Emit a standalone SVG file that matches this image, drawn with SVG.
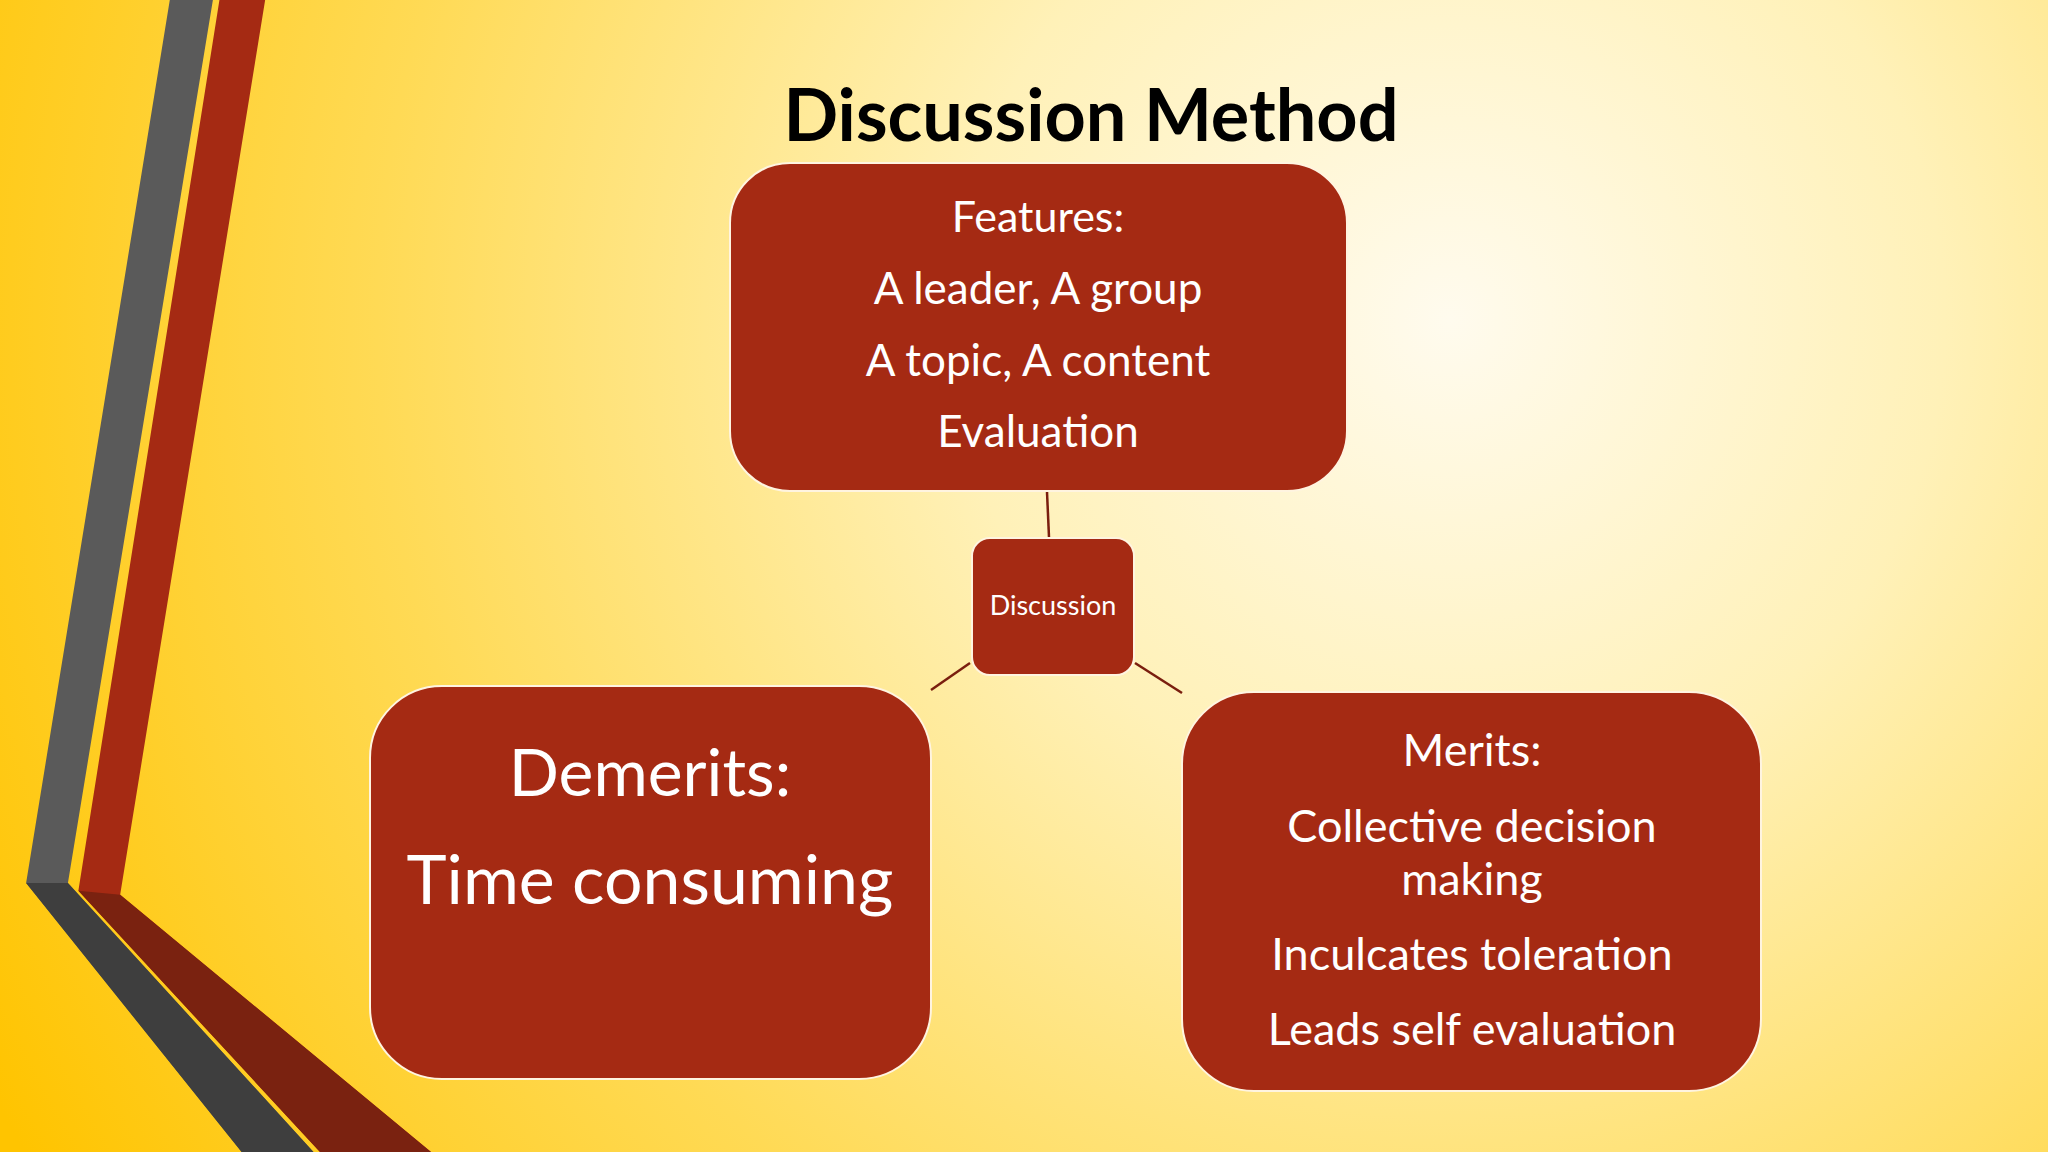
<svg xmlns="http://www.w3.org/2000/svg" width="2048" height="1152" viewBox="0 0 2048 1152">
<defs>
<radialGradient id="bg" cx="1450" cy="320" r="1650" gradientUnits="userSpaceOnUse">
<stop offset="0" stop-color="#FFFBEE"/>
<stop offset="0.3" stop-color="#FFF1B8"/>
<stop offset="0.65" stop-color="#FFDA55"/>
<stop offset="1" stop-color="#FFC400"/>
</radialGradient>
<style>
.box{fill:#A52A13;stroke:#FFF4E0;stroke-width:2}
.t{fill:#fff;font-family:Lato,"Open Sans",sans-serif;text-anchor:middle}
.c{stroke:#7A1E0E;stroke-width:2.5;fill:none}
</style>
</defs>
<rect width="2048" height="1152" fill="url(#bg)"/>
<g transform="scale(1.30612)">
<polygon points="130,0 163,0 52,676 240,882 185,882 20,676" fill="#5A5A5A"/>
<polygon points="168,0 203,0 92,685 330,882 245,882 60,682" fill="#A52A13"/>
<polygon points="60,682 92,685 330,882 245,882" fill="#7A2210"/>
<polygon points="20,676 52,676 240,882 185,882" fill="#3E3E3E"/>
</g>
<text x="1091" y="141" class="t" style="fill:#000;font-weight:bold;font-size:72px">Discussion Method</text>
<g id="connectors">
<line class="c" x1="1047" y1="492" x2="1049" y2="537"/>
<line class="c" x1="970" y1="663" x2="931" y2="690"/>
<line class="c" x1="1135" y1="663" x2="1182" y2="693"/>
</g>
<g id="features">
<rect class="box" x="730" y="163" width="617" height="328" rx="60"/>
<text class="t" x="1038" y="232" font-size="43">Features:</text>
<text class="t" x="1038" y="304" font-size="44">A leader, A group</text>
<text class="t" x="1038" y="376" font-size="44">A topic, A content</text>
<text class="t" x="1038" y="447" font-size="44">Evaluation</text>
</g>
<g id="discussion">
<rect class="box" x="972" y="538" width="162" height="137" rx="18"/>
<text class="t" x="1053" y="615" font-size="27">Discussion</text>
</g>
<g id="demerits">
<rect class="box" x="370" y="686" width="561" height="393" rx="72"/>
<text class="t" x="650" y="796" font-size="66">Demerits:</text>
<text class="t" x="650" y="904" font-size="68">Time consuming</text>
</g>
<g id="merits">
<rect class="box" x="1182" y="692" width="579" height="399" rx="72"/>
<text class="t" x="1472" y="766" font-size="45">Merits:</text>
<text class="t" x="1472" y="842" font-size="45">Collective decision</text>
<text class="t" x="1472" y="895" font-size="45">making</text>
<text class="t" x="1472" y="970" font-size="45">Inculcates toleration</text>
<text class="t" x="1472" y="1045" font-size="45">Leads self evaluation</text>
</g>
</svg>
